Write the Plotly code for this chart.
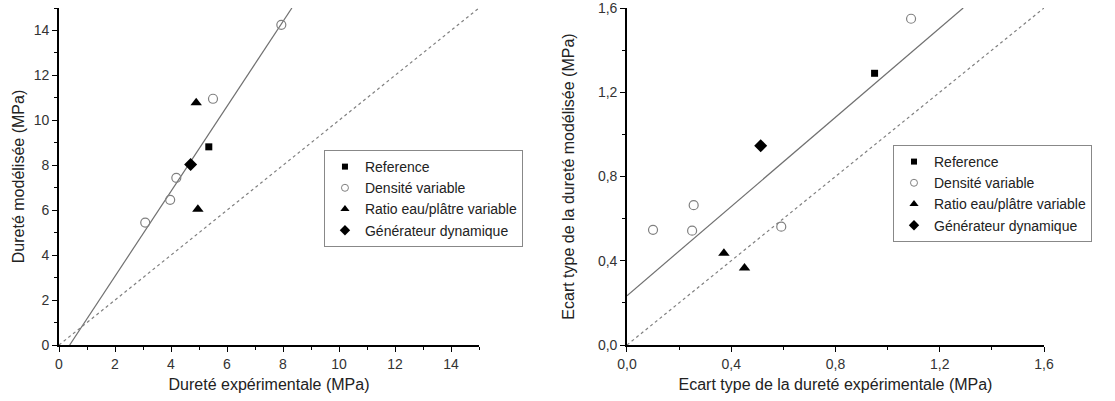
import plotly.graph_objects as go

# ---------- Left panel data: hardness (MPa) ----------
ref_x_L = [5.35]
ref_y_L = [8.82]
dens_x_L = [3.08, 3.97, 4.19, 5.50, 7.94]
dens_y_L = [5.45, 6.46, 7.44, 10.96, 14.25]
ratio_x_L = [4.90, 4.96]
ratio_y_L = [10.78, 6.04]
gen_x_L = [4.70]
gen_y_L = [8.03]
fit_slope_L = 1.89
fit_intercept_L = -0.72

# ---------- Right panel data: standard deviation (MPa) ----------
ref_x_R = [0.95]
ref_y_R = [1.29]
dens_x_R = [0.10, 0.25, 0.256, 0.592, 1.09]
dens_y_R = [0.547, 0.543, 0.664, 0.562, 1.549]
ratio_x_R = [0.372, 0.451]
ratio_y_R = [0.436, 0.365]
gen_x_R = [0.513]
gen_y_R = [0.946]
fit_slope_R = 1.059
fit_intercept_R = 0.234

names = ["Reference", "Densité variable", "Ratio eau/plâtre variable", "Générateur dynamique"]
range_L = [0, 15]
range_R = [0, 1.6]

FONT = "Liberation Sans, Arial, sans-serif"
fig = go.Figure()

plot_styles = [
    dict(symbol="square", size=7, color="black"),
    dict(symbol="circle-open", size=9, color="#808080", line=dict(width=1.2, color="#808080")),
    dict(symbol="triangle-up", size=10, color="black"),
    dict(symbol="diamond", size=10, color="black"),
]
legend_styles = [
    dict(symbol="square", size=6, color="black"),
    dict(symbol="circle-open", size=7, color="#808080", line=dict(width=1, color="#808080")),
    dict(symbol="triangle-up", size=8, color="black"),
    dict(symbol="diamond", size=8, color="black"),
]

def add_series(xs, ys, xa, ya, legend):
    for x, y, nm, st, lst in zip(xs, ys, names, plot_styles, legend_styles):
        fig.add_trace(go.Scatter(x=x, y=y, mode="markers", name=nm, marker=st,
                                 xaxis=xa, yaxis=ya, showlegend=False))
        # legend entry with smaller symbol, as in the original
        fig.add_trace(go.Scatter(x=[None], y=[None], mode="markers", name=nm, marker=lst,
                                 xaxis=xa, yaxis=ya, legend=legend, showlegend=True))

# fitted and identity lines (left)
x0L = -fit_intercept_L / fit_slope_L
x1L = (range_L[1] - fit_intercept_L) / fit_slope_L
fig.add_trace(go.Scatter(x=[x0L, x1L], y=[fit_slope_L * x0L + fit_intercept_L, fit_slope_L * x1L + fit_intercept_L],
                         mode="lines", line=dict(color="#707070", width=1.2), showlegend=False,
                         xaxis="x", yaxis="y", hoverinfo="skip"))
fig.add_trace(go.Scatter(x=range_L, y=range_L, mode="lines",
                         line=dict(color="#808080", width=1.2, dash="dot"), showlegend=False,
                         xaxis="x", yaxis="y", hoverinfo="skip"))
# right
x1R = (range_R[1] - fit_intercept_R) / fit_slope_R
fig.add_trace(go.Scatter(x=[0, x1R], y=[fit_intercept_R, fit_slope_R * x1R + fit_intercept_R],
                         mode="lines", line=dict(color="#707070", width=1.2), showlegend=False,
                         xaxis="x2", yaxis="y2", hoverinfo="skip"))
fig.add_trace(go.Scatter(x=range_R, y=range_R, mode="lines",
                         line=dict(color="#808080", width=1.2, dash="dot"), showlegend=False,
                         xaxis="x2", yaxis="y2", hoverinfo="skip"))

add_series([ref_x_L, dens_x_L, ratio_x_L, gen_x_L], [ref_y_L, dens_y_L, ratio_y_L, gen_y_L], "x", "y", "legend")
add_series([ref_x_R, dens_x_R, ratio_x_R, gen_x_R], [ref_y_R, dens_y_R, ratio_y_R, gen_y_R], "x2", "y2", "legend2")

axis_common = dict(showline=True, linecolor="black", linewidth=1.6, ticks="outside", ticklen=5,
                   tickwidth=1.2, tickcolor="black", showgrid=False, zeroline=False,
                   tickfont=dict(family=FONT, size=14, color="#333333"),
                   title_font=dict(family=FONT, size=16, color="#222222"), mirror=False,
                   ticklabeloverflow="allow")

fig.update_layout(
    width=1115, height=401,
    margin=dict(l=59, r=71, t=8, b=56, autoexpand=False),
    plot_bgcolor="white", paper_bgcolor="white",
    separators=", ",
    font=dict(family=FONT, color="#222222"),
    xaxis=dict(domain=[0, 0.4264], range=range_L, dtick=2, tick0=0,
               minor=dict(ticks="outside", ticklen=3, dtick=1, tickcolor="black"),
               title=dict(text="Dureté expérimentale (MPa)", standoff=8), **axis_common),
    yaxis=dict(range=range_L, dtick=2, tick0=0,
               minor=dict(ticks="outside", ticklen=3, dtick=1, tickcolor="black"),
               title=dict(text="Dureté modélisée (MPa)", standoff=5), anchor="x", **axis_common),
    xaxis2=dict(domain=[0.5766, 1], range=range_R, dtick=0.4, tick0=0, tickformat=".1f",
                minor=dict(ticks="outside", ticklen=3, dtick=0.2, tickcolor="black"),
                title=dict(text="Ecart type de la dureté expérimentale (MPa)", standoff=8),
                anchor="y2", **axis_common),
    yaxis2=dict(range=range_R, dtick=0.4, tick0=0, tickformat=".1f",
                minor=dict(ticks="outside", ticklen=3, dtick=0.2, tickcolor="black"),
                title=dict(text="Ecart type de la dureté modélisée (MPa)", standoff=19),
                anchor="x2", **axis_common),
    legend=dict(x=0.269, y=0.5786, xanchor="left", yanchor="top", bgcolor="white",
                bordercolor="#888888", borderwidth=1, font=dict(family=FONT, size=14, color="#222222"),
                tracegroupgap=0, itemsizing="trace"),
    legend2=dict(x=0.8467, y=0.5935, xanchor="left", yanchor="top", bgcolor="white",
                 bordercolor="#888888", borderwidth=1, font=dict(family=FONT, size=14, color="#222222"),
                 tracegroupgap=0, itemsizing="trace"),
)

# remove the browser's default page margin so the 1115x401 figure fills the window
fig.write_html("out.html", config={"displayModeBar": False},
               post_script="document.body.style.margin='0';")
